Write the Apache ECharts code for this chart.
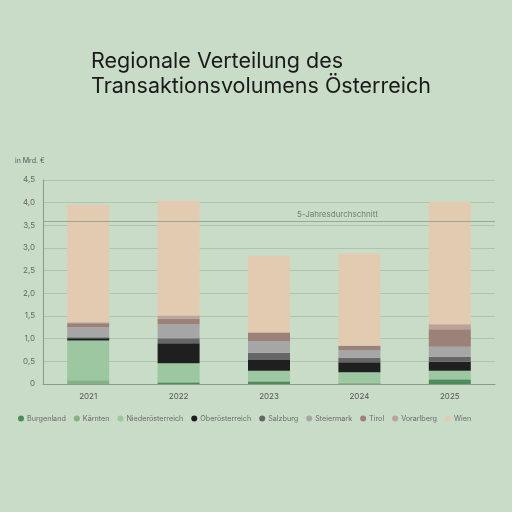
<!DOCTYPE html>
<html>
<head>
<meta charset="utf-8">
<script src="https://cdn.jsdelivr.net/npm/echarts@6/dist/echarts.min.js"></script>
<style>
html,body{margin:0;padding:0;background:#c9dcc7;}
#c{width:512px;height:512px;}
</style>
</head>
<body>
<div id="c"></div>
<script>
const years = ['2021','2022','2023','2024','2025'];
const burgenland       = [0.00, 0.02, 0.05, 0.01, 0.09];
const kaernten         = [0.08, 0.03, 0.02, 0.02, 0.02];
const niederoesterreich= [0.88, 0.41, 0.22, 0.23, 0.18];
const oberoesterreich  = [0.05, 0.44, 0.24, 0.22, 0.20];
const salzburg         = [0.02, 0.11, 0.16, 0.10, 0.11];
const steiermark       = [0.23, 0.31, 0.26, 0.17, 0.22];
const tirol            = [0.08, 0.12, 0.18, 0.09, 0.39];
const vorarlberg       = [0.02, 0.07, 0.01, 0.01, 0.11];
const wien             = [2.60, 2.53, 1.69, 2.03, 2.70];
const fiveYearAverage  = 3.58;
const yTicks = ['0','0,5','1,0','1,5','2,0','2,5','3,0','3,5','4,0','4,5'];

const seriesDefs = [
  ['Burgenland', burgenland, '#4f8a5a'],
  ['Kärnten', kaernten, '#82b18a'],
  ['Niederösterreich', niederoesterreich, '#9cc7a0'],
  ['Oberösterreich', oberoesterreich, '#1f1f1f'],
  ['Salzburg', salzburg, '#666666'],
  ['Steiermark', steiermark, '#a6a6a6'],
  ['Tirol', tirol, '#9b8178'],
  ['Vorarlberg', vorarlberg, '#b9a39b'],
  ['Wien', wien, '#e3cbb2']
];

const FONT = 'Inter, "Noto Sans", sans-serif';
const chart = echarts.init(document.getElementById('c'), null, {renderer:'canvas'});

const series = seriesDefs.map(([name, data, color], i) => {
  const s = {
    name, type:'bar', stack:'total', data,
    barWidth: 42,
    itemStyle:{color},
    emphasis:{disabled:true}
  };
  if (i === seriesDefs.length - 1) {
    s.markLine = {
      silent:true, symbol:'none',
      lineStyle:{color:'#94a893', type:'solid', width:1},
      label:{show:false},
      data:[{yAxis: fiveYearAverage}]
    };
  }
  return s;
});

chart.setOption({
  backgroundColor:'#c9dcc7',
  animation:false,
  textStyle:{fontFamily:FONT},
  title:{
    text:'Regionale Verteilung des\nTransaktionsvolumens Österreich',
    left:86, top:44,
    textStyle:{fontFamily:FONT, fontSize:21.5, fontWeight:'normal', color:'#1a1a1a', lineHeight:25}
  },
  grid:{left:43, right:17, top:180, bottom:128},
  legend:{
    top:410, left:13, width:500,
    icon:'circle', itemWidth:6, itemHeight:6, itemGap:8,
    textStyle:{fontFamily:FONT, fontSize:7.2, color:'#6a6a6a', padding:[0,0,0,-2]},
    data: seriesDefs.map(d=>d[0])
  },
  xAxis:{
    type:'category', data:years,
    axisLine:{lineStyle:{color:'#8a9a89', width:1}},
    axisTick:{show:false},
    axisLabel:{fontSize:8, color:'#555', margin:9, fontFamily:FONT}
  },
  yAxis:{
    type:'value', min:0, max:4.5, interval:0.5,
    axisLine:{show:true, lineStyle:{color:'#8a9a89', width:1}},
    axisTick:{show:false},
    splitLine:{lineStyle:{color:'#afc4ad', width:1}},
    axisLabel:{fontSize:8, color:'#666', margin:8, fontFamily:FONT,
      formatter:(v)=> yTicks[Math.round(v/0.5)]}
  },
  series
});

const avgY = chart.convertToPixel({yAxisIndex:0}, fiveYearAverage);
chart.setOption({
  graphic:[
    {type:'text', left:15, top:157, style:{text:'in Mrd. €', fontSize:7, fill:'#555', fontFamily:FONT}},
    {type:'text', x:297, y:avgY - 11, style:{text:'5-Jahresdurchschnitt', fontSize:8, fill:'#6f7f6e', fontFamily:FONT}}
  ]
});
</script>
</body>
</html>
